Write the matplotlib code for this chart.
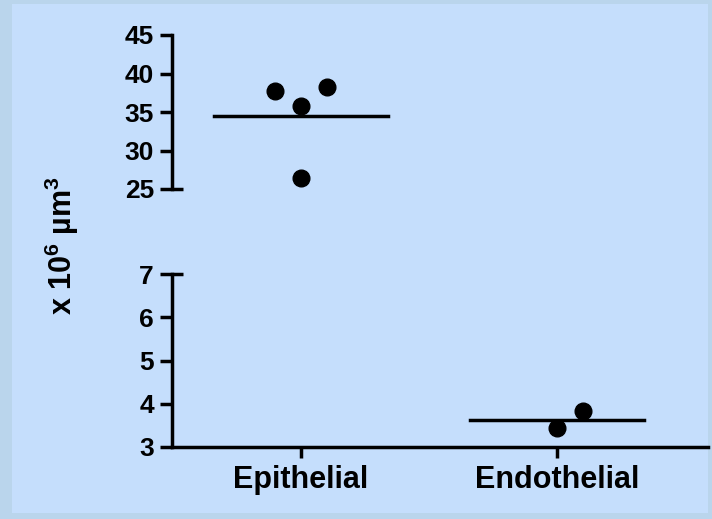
import numpy as np
import matplotlib
matplotlib.use("Agg")
import matplotlib.pyplot as plt
from matplotlib.patches import Rectangle
import matplotlib.transforms as mtransforms

plt.rcParams['font.family'] = ['Liberation Sans', 'DejaVu Sans']
plt.rcParams['font.weight'] = 'bold'
plt.rcParams['mathtext.fontset'] = 'custom'
plt.rcParams['mathtext.rm'] = 'Liberation Sans:bold'
plt.rcParams['mathtext.default'] = 'rm'

# data
categories = ['Epithelial', 'Endothelial']
epi_vals = [37.7, 35.8, 38.2, 26.4]
epi_jitter = [-0.1, 0.0, 0.1, 0.0]
endo_vals = [3.44, 3.83]
endo_jitter = [0.0, 0.1]
top_ticks = [25, 30, 35, 40, 45]
bot_ticks = [3, 4, 5, 6, 7]

W, H = 712, 519
fig = plt.figure(figsize=(W / 100, H / 100), dpi=100)
fig.patch.set_facecolor('#BAD5EC')
fig.patches.append(Rectangle((12 / W, 6 / H), 696 / W, 509 / H,
                             transform=fig.transFigure, facecolor='#C5DEFC',
                             edgecolor='none', zorder=-10))

left = 172 / W
width = 536 / W
ax_top = fig.add_axes([left, 1 - 189 / H, width, 154 / H])
ax_bot = fig.add_axes([left, 1 - 447 / H, width, 173 / H])

lw = 2.5
for ax in (ax_top, ax_bot):
    ax.set_facecolor('none')
    ax.set_xlim(-0.504, 1.59)
    for s in ['top', 'right']:
        ax.spines[s].set_visible(False)
    ax.spines['left'].set_linewidth(lw)
    ax.spines['bottom'].set_linewidth(lw)
    ax.tick_params(axis='y', length=9, width=lw, pad=4, labelsize=19)

# top segment
ax_top.set_ylim(25, 45)
ax_top.set_yticks(top_ticks)
ax_top.spines['bottom'].set_visible(False)
ax_top.set_xticks([])
x_epi = [0 + j for j in epi_jitter]
ax_top.plot(x_epi, epi_vals, 'o', color='black', markersize=12, clip_on=False)
ax_top.plot([-0.34, 0.34], [np.mean(epi_vals)] * 2, color='black', lw=lw)
tr = mtransforms.blended_transform_factory(ax_top.transAxes, ax_top.transData)
ax_top.plot([0, 11 / 536], [25, 25], color='black', lw=lw, transform=tr,
            clip_on=False, solid_capstyle='butt')

# bottom segment
ax_bot.set_ylim(3, 7)
ax_bot.set_yticks(bot_ticks)
ax_bot.set_xticks([0, 1])
ax_bot.set_xticklabels(categories)
ax_bot.tick_params(axis='x', length=8, width=lw, pad=5, labelsize=22)
x_endo = [1 + j for j in endo_jitter]
ax_bot.plot(x_endo, endo_vals, 'o', color='black', markersize=12, clip_on=False)
ax_bot.plot([0.66, 1.34], [np.mean(endo_vals)] * 2, color='black', lw=lw)
tr = mtransforms.blended_transform_factory(ax_bot.transAxes, ax_bot.transData)
ax_bot.plot([0, 11 / 536], [7, 7], color='black', lw=lw, transform=tr,
            clip_on=False, solid_capstyle='butt')

fig.text(62 / W, 1 - 246 / H, 'x 10$^{6}$ \u00b5m$^{3}$', rotation=90,
         ha='center', va='center', fontsize=22, fontweight='bold')

fig.savefig('out.png', dpi=100, facecolor=fig.get_facecolor())
